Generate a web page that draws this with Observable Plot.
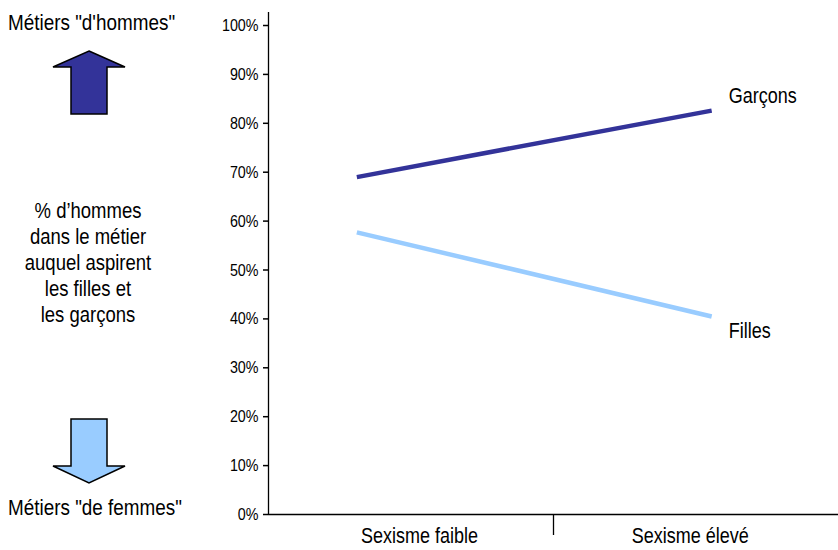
<!DOCTYPE html>
<html>
<head>
<meta charset="utf-8">
<script src="https://cdn.jsdelivr.net/npm/d3@7"></script>
<script src="https://cdn.jsdelivr.net/npm/@observablehq/plot@0.6"></script>
<style>
  html, body { margin: 0; padding: 0; background: #fff; }
  #wrap { position: relative; width: 838px; height: 550px; font-family: "Liberation Sans", Arial, sans-serif; }
  #wrap svg { position: absolute; left: 0; top: 0; }
</style>
</head>
<body>
<div id="wrap"></div>
<script>
// ---- data ----
const categories = ["Sexisme faible", "Sexisme élevé"];
const categoryLabelPos = [0.53, 1.48];          // label centres (category units)
const lineX = [0.31, 1.555];                     // x positions of the segment ends
const garcons = [0.69, 0.826];
const filles = [0.577, 0.405];
const seriesNames = ["Garçons", "Filles"];
const seriesColors = ["#333399", "#99CCFF"];
const yTicks = [0, 0.1, 0.2, 0.3, 0.4, 0.5, 0.6, 0.7, 0.8, 0.9, 1.0];
const topLabel = 'Métiers "d\'hommes"';
const bottomLabel = 'Métiers "de femmes"';
const sideLines = ["% d’hommes", "dans le métier", "auquel aspirent", "les filles et", "les garçons"];

const lineData = [
  ...lineX.map((x, i) => ({serie: seriesNames[0], x, v: garcons[i]})),
  ...lineX.map((x, i) => ({serie: seriesNames[1], x, v: filles[i]}))
];
const lastG = lineData.filter(d => d.serie === seriesNames[0]).slice(-1);
const lastF = lineData.filter(d => d.serie === seriesNames[1]).slice(-1);
const catData = categories.map((c, i) => ({c, x: categoryLabelPos[i]}));

const font = '"Liberation Sans", Arial, sans-serif';
const stretch = 1.2; // reference glyphs are taller/narrower

const chart = Plot.plot({
  width: 838,
  height: 550,
  marginLeft: 268,
  marginRight: 0,
  marginTop: 12,
  marginBottom: 36,
  style: {fontFamily: font, background: "transparent", color: "#000"},
  x: {domain: [0, 2], axis: null},
  y: {domain: [0, 1.0266], axis: null},
  color: {domain: seriesNames, range: seriesColors},
  marks: [
    Plot.axisY({ticks: yTicks, tickFormat: d3.format(".0%"), tickSize: 5, tickPadding: 5, fontSize: 14.3, label: null, stroke: "#000", strokeWidth: 1.5, fill: "#000"}),
    Plot.ruleX([0], {stroke: "#000", strokeWidth: 1.3}),
    Plot.ruleY([0], {stroke: "#000", strokeWidth: 1.3}),
    Plot.axisX({ticks: [1], tickSize: 21, tickFormat: () => "", label: null, stroke: "#000", strokeWidth: 1.3}),
    Plot.text(catData, {x: "x", y: 0, text: "c", dy: 22, fontSize: 18, fill: "#000", textAnchor: "middle"}),
    Plot.line(lineData, {x: "x", y: "v", z: "serie", stroke: "serie", strokeWidth: 4.5, strokeLinecap: "butt"}),
    Plot.text(lastG, {x: "x", y: "v", text: "serie", textAnchor: "start", fontSize: 18, fill: "#000", dx: 17, dy: -15}),
    Plot.text(lastF, {x: "x", y: "v", text: "serie", textAnchor: "start", fontSize: 18, fill: "#000", dx: 17, dy: 15})
  ]
});
// stretch glyphs vertically around their anchor, keeping positions
d3.select(chart).selectAll("text").each(function() {
  const t = this.getAttribute("transform");
  if (t) this.setAttribute("transform", t + ` scale(1,${stretch})`);
});
document.getElementById("wrap").appendChild(chart);

// ---- left annotations ----
const svg = d3.select("#wrap").append("svg").attr("width", 230).attr("height", 550);
svg.append("polygon")
  .attr("points", "89,51 125,67 107,67 107,114 71,114 71,67 53,67")
  .attr("fill", seriesColors[0]).attr("stroke", "#000").attr("stroke-width", 1.5);
svg.append("polygon")
  .attr("points", "71,419 107,419 107,466 125,466 89,483 53,466 71,466")
  .attr("fill", seriesColors[1]).attr("stroke", "#000").attr("stroke-width", 1.5);
function label(x, y, t, size, anchor) {
  svg.append("text").attr("transform", `translate(${x},${y}) scale(1,${stretch})`)
    .attr("text-anchor", anchor).attr("font-size", size).attr("font-family", font).text(t);
}
label(8, 30, topLabel, 18.9, "start");
label(8, 515, bottomLabel, 18.9, "start");
sideLines.forEach((t, i) => label(88, 218 + i * 26, t, 18.5, "middle"));
</script>
</body>
</html>
